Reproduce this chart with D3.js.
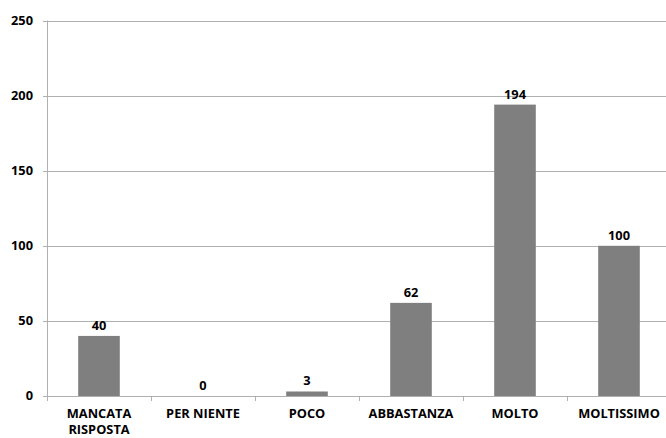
<!DOCTYPE html>
<html>
<head>
<meta charset="utf-8">
<script src="https://cdn.jsdelivr.net/npm/d3@7"></script>
<style>
  html, body { margin: 0; padding: 0; background: #fff; }
  svg { display: block; }
  text { font-family: "Open Sans", "Liberation Sans", sans-serif; font-weight: bold; fill: #000; }
</style>
</head>
<body>
<svg id="chart" width="666" height="438"></svg>
<script>
const categories = ["MANCATA RISPOSTA", "PER NIENTE", "POCO", "ABBASTANZA", "MOLTO", "MOLTISSIMO"];
const values = [40, 0, 3, 62, 194, 100];
const yTicks = [0, 50, 100, 150, 200, 250];

const svg = d3.select("#chart");
const x0 = 47, x1 = 671, yTop = 20.5, yBottom = 396;
const gridColor = "#b0b0b0";
const fontSize = 12.8;

const x = d3.scaleBand().domain(categories).range([x0, x1]).paddingInner(0.6).paddingOuter(0.3);
const y = d3.scaleLinear().domain([0, 250]).range([yBottom, yTop]);

// horizontal gridlines with short ticks to the left of the axis
svg.append("g").selectAll("line").data(yTicks).join("line")
  .attr("x1", x0 - 4).attr("x2", x1)
  .attr("y1", d => Math.round(y(d)) + 0.5).attr("y2", d => Math.round(y(d)) + 0.5)
  .attr("stroke", gridColor).attr("stroke-width", 1);

// y tick labels
svg.append("g").selectAll("text").data(yTicks).join("text")
  .attr("x", 33).attr("y", d => y(d)).attr("dy", "0.35em")
  .attr("text-anchor", "end").attr("font-size", fontSize)
  .text(d => d);

// vertical axis line
svg.append("line")
  .attr("x1", x0 + 0.5).attr("x2", x0 + 0.5)
  .attr("y1", yTop).attr("y2", yBottom + 0.5)
  .attr("stroke", gridColor);

// category boundary ticks below the baseline
const bounds = d3.range(categories.length + 1).map(i => x0 + i * (x1 - x0) / categories.length);
svg.append("g").selectAll("line").data(bounds).join("line")
  .attr("x1", d => Math.round(d) + 0.5).attr("x2", d => Math.round(d) + 0.5)
  .attr("y1", yBottom).attr("y2", yBottom + 5)
  .attr("stroke", gridColor);

// bars
svg.append("g").selectAll("rect").data(values).join("rect")
  .attr("x", (d, i) => x(categories[i]))
  .attr("width", x.bandwidth())
  .attr("y", d => y(d))
  .attr("height", d => yBottom - y(d))
  .attr("fill", "#7f7f7f");

// value labels
svg.append("g").selectAll("text").data(values).join("text")
  .attr("x", (d, i) => x(categories[i]) + x.bandwidth() / 2)
  .attr("y", d => y(d) - 6)
  .attr("text-anchor", "middle").attr("font-size", fontSize)
  .text(d => d);

// category labels; the first one wraps onto two lines
svg.append("g").selectAll("text").data(categories).join("text")
  .attr("x", d => x(d) + x.bandwidth() / 2)
  .attr("y", 417.5)
  .attr("text-anchor", "middle").attr("font-size", fontSize)
  .each(function(d) {
    const lines = d === "MANCATA RISPOSTA" ? ["MANCATA", "RISPOSTA"] : [d];
    const t = d3.select(this);
    lines.forEach((l, i) => t.append("tspan").attr("x", t.attr("x")).attr("dy", i ? 16.5 : 0).text(l));
  });
</script>
</body>
</html>
